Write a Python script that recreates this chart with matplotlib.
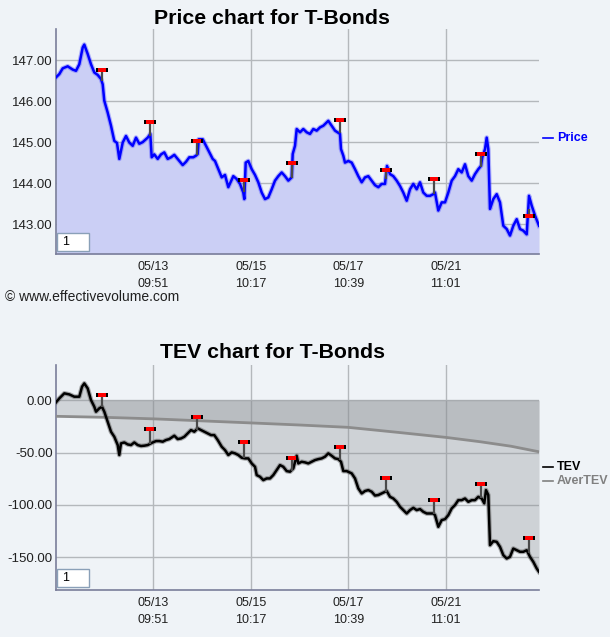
import matplotlib
matplotlib.use("Agg")
import matplotlib.pyplot as plt
from matplotlib.patches import Rectangle
import numpy as np

# ---------------- data ----------------
price_t = [0, 3.3, 6.7, 11.7, 16.7, 20, 23.3, 26.7, 28.3, 31.7,
           35, 38.3, 41.7, 45, 46.7, 48.3, 51.7, 55, 58.3, 61,
           63.3, 66.7, 70, 73.3, 76.7, 80, 83.3, 86.7, 91.7, 94.3,
           95.7, 98.3, 101.7, 105, 108.3, 111.7, 115, 118.3, 121.7, 126.7,
           130, 133.3, 137.3, 140, 141.7, 142.7, 146.7, 150, 153.3, 156.7,
           159, 162.3, 165.7, 169, 172.3, 177.3, 180.7, 184, 187.3, 188.3,
           189.7, 192.3, 195.7, 199, 202.3, 205.7, 209, 212.3, 215.7, 219,
           222.3, 225.7, 229, 232.3, 235.7, 236.7, 239, 240.7, 244, 247.3,
           250.7, 254, 257.3, 260.7, 264, 267.3, 272.3, 275.7, 279, 284,
           285, 287.3, 289, 292.3, 295.7, 299, 302.3, 305.7, 309, 312.3,
           315.7, 319, 322.3, 325.7, 329, 331, 334, 337.3, 340.7, 344,
           347.3, 350.7, 354, 357.3, 360.7, 364, 367.3, 370.7, 374, 377.3,
           379, 382.3, 385.7, 389, 392.3, 395.7, 399, 402.3, 405.7, 409,
           412.3, 415.7, 419, 422.3, 425, 426.3, 429, 430.7, 432.3, 434,
           437.3, 440.7, 444, 447.3, 450.7, 454, 457.3, 460.7, 464, 467.3,
           470.7, 473, 475.7, 479, 483]
price = [146.58, 146.66, 146.80, 146.85, 146.77, 146.74, 146.90, 147.31, 147.38, 147.15,
         146.90, 146.70, 146.64, 146.54, 146.41, 146.01, 145.72, 145.40, 145.03, 144.98,
         144.59, 144.99, 145.15, 144.99, 144.91, 145.11, 144.96, 145.00, 145.11, 145.20,
         144.63, 144.70, 144.59, 144.70, 144.75, 144.59, 144.63, 144.69, 144.59, 144.44,
         144.52, 144.63, 144.63, 144.67, 144.71, 145.07, 145.07, 144.91, 144.75, 144.59,
         144.54, 144.34, 144.14, 144.20, 143.90, 144.17, 144.10, 143.98, 143.77, 143.61,
         144.50, 144.54, 144.34, 144.20, 144.02, 143.77, 143.61, 143.65, 143.85, 144.06,
         144.17, 144.26, 144.17, 144.06, 144.14, 144.71, 144.91, 145.32, 145.24, 145.32,
         145.24, 145.20, 145.32, 145.28, 145.36, 145.40, 145.52, 145.40, 145.28, 145.20,
         144.83, 144.67, 144.50, 144.54, 144.50, 144.34, 144.17, 144.02, 144.14, 144.17,
         144.06, 143.95, 143.90, 143.98, 143.98, 144.42, 144.22, 144.17, 144.06, 143.93,
         143.77, 143.57, 143.85, 143.98, 143.85, 144.02, 143.77, 143.69, 143.69, 143.73,
         143.77, 143.33, 143.53, 143.53, 143.77, 144.06, 144.17, 144.34, 144.26, 144.46,
         144.17, 144.06, 144.22, 144.34, 144.42, 144.63, 144.83, 145.11, 144.83, 143.37,
         143.61, 143.73, 143.53, 142.96, 142.88, 142.72, 142.96, 143.12, 142.88, 142.84,
         142.75, 143.69, 143.45, 143.21, 142.96]

tev_t = [0, 3.3, 8.3, 13.3, 18.3, 23.3, 26, 28.3, 31.7, 35,
         38.3, 40, 43.3, 46, 48.3, 51.7, 55, 58.3, 61.7, 63.3,
         65, 68.3, 71.7, 75, 78.3, 81.7, 85, 88.3, 91.7, 95,
         96.7, 100, 103.3, 106.7, 110, 113.3, 118.3, 121.7, 125, 128.3,
         131.7, 135, 138.3, 141.7, 145, 148.3, 151.7, 155, 158.3, 161.7,
         165.7, 169, 172.3, 175.7, 179, 182.3, 185.7, 189, 192.3, 195.7,
         199, 200.7, 204, 207.3, 210.7, 214, 217.3, 220.7, 224, 227.3,
         230.7, 234, 237.3, 240.7, 242.3, 245.7, 249, 252.3, 255.7, 259,
         262.3, 265.7, 269, 272.3, 275.7, 279, 282.3, 285, 287.3, 290.7,
         295.7, 299, 302.3, 305.7, 309, 312.3, 315.7, 319, 322.3, 325.7,
         330.7, 334, 337.3, 340.7, 344, 347.3, 350.7, 354, 357.3, 360.7,
         364, 367.3, 370.7, 374, 377.3, 379, 382.3, 385.7, 389, 392.3,
         395.7, 399, 402.3, 405.7, 409, 412.3, 415.7, 419, 422.3, 425.7,
         428.3, 430, 432.3, 434, 437.3, 440.7, 444, 447.3, 450.7, 454,
         457.3, 460.7, 464, 467.3, 470.7, 474, 477.3, 480.7, 483]
tev = [-2.2, 1.6, 6.4, 5.4, 3.2, 3.2, 12.7, 15.9, 11.1, 0.0,
       -6.4, -11.1, -7.9, -6.4, -11.1, -20.7, -30.2, -35.0, -42.9, -52.4,
       -41.3, -40.4, -42.3, -42.9, -40.4, -42.9, -43.8, -43.5, -42.9, -41.3,
       -40.4, -39.1, -39.1, -39.7, -38.1, -37.2, -34.0, -37.2, -36.6, -35.0,
       -31.8, -28.6, -30.2, -27.0, -28.6, -30.2, -31.8, -33.4, -33.4, -38.1,
       -44.5, -47.7, -52.4, -49.9, -50.8, -52.4, -55.0, -55.6, -55.6, -60.4,
       -63.6, -71.5, -73.1, -76.3, -74.7, -74.7, -71.5, -66.7, -62.0, -63.6,
       -67.7, -68.3, -65.2, -53.1, -60.4, -58.8, -59.4, -60.4, -58.8, -57.2,
       -56.3, -55.6, -54.0, -50.8, -53.1, -55.6, -56.3, -58.8, -67.7, -67.7,
       -69.9, -74.7, -84.2, -89.0, -86.7, -85.8, -87.4, -91.0, -90.5, -89.0,
       -86.7, -92.2, -93.8, -97.0, -101.7, -104.9, -108.1, -104.9, -102.7, -104.9,
       -103.9, -106.5, -108.1, -108.1, -108.1, -109.7, -120.8, -114.4, -113.5, -109.7,
       -103.3, -100.1, -95.4, -95.4, -93.8, -97.0, -95.4, -95.4, -92.2, -93.8,
       -98.5, -85.8, -90.5, -138.3, -134.5, -135.1, -139.9, -147.8, -151.0, -149.4,
       -141.5, -143.1, -144.6, -144.6, -143.1, -149.4, -154.2, -160.5, -163.7]

aver_t = [0, 50, 100, 150, 200, 244, 292, 344, 390, 424, 455, 483]
aver_tev = [-15.5, -16.5, -18.0, -20.0, -22.0, -23.8, -26.0, -31.0, -35.6, -39.7, -44.0, -49.3]

signal_t = [46.3, 93.8, 141.3, 188.0, 235.8, 284.0, 330.3, 378.3, 425.0, 473.0]
signal_price = [146.75, 145.50, 145.02, 144.07, 144.50, 145.53, 144.31, 144.09, 144.72, 143.19]
signal_tev = [4.8, -28.0, -16.0, -39.5, -55.0, -45.0, -74.0, -95.0, -80.0, -131.0]

tick_pos = [97.3, 194.7, 292.3, 389.7]
tick_labels = ["05/13\n09:51", "05/15\n10:17", "05/17\n10:39", "05/21\n11:01"]
price_ticks = [143.0, 144.0, 145.0, 146.0, 147.0]
tev_ticks = [-150.0, -100.0, -50.0, 0.0]

# ---------------- style ----------------
BG = "#eff3f7"
FONT = ["Liberation Sans", "DejaVu Sans"]
plt.rcParams["font.family"] = FONT

fig = plt.figure(figsize=(6.10, 6.37), dpi=100, facecolor=BG)

def style_axes(ax, yticks, ylim):
    ax.set_facecolor(BG)
    ax.set_xlim(0, 483)
    ax.set_ylim(*ylim)
    ax.set_xticks(tick_pos)
    ax.set_xticklabels(tick_labels, fontsize=9, color="#202020", linespacing=1.6)
    ax.set_yticks(yticks)
    ax.set_yticklabels([f"{v:.2f}" for v in yticks], fontsize=9.5, color="#202020")
    ax.tick_params(axis="y", length=0, pad=2.5)
    ax.tick_params(axis="x", length=0, pad=5)
    ax.grid(True, color="#b4b8bc", lw=1.0)
    ax.set_axisbelow(True)
    for s in ("top", "right"):
        ax.spines[s].set_visible(False)
    ax.spines["left"].set_color("#7a7e9a")
    ax.spines["bottom"].set_color("#7a7e9a")
    ax.spines["left"].set_linewidth(1.2)
    ax.spines["bottom"].set_linewidth(1.2)
    # input box
    ax.add_patch(Rectangle((0.003, 0.015), 0.066, 0.078, transform=ax.transAxes,
                           facecolor="white", edgecolor="#8aa0b8", lw=1.0, zorder=6))
    ax.text(0.012, 0.054, "1", transform=ax.transAxes, fontsize=9, va="center",
            ha="left", color="black", zorder=7)

def draw_signals(ax, sig_t, sig_v, curve_t, curve_v):
    base = np.interp(np.array(sig_t) - 0.8, curve_t, curve_v)
    for t, v, b in zip(sig_t, sig_v, base):
        ax.plot([t, t], [b, v], color="#4a4a4a", lw=1.6, zorder=5, solid_capstyle="butt")
    rect = [(-1, -0.42), (1, -0.42), (1, 0.42), (-1, 0.42), (-1, -0.42)]
    ax.plot(sig_t, sig_v, ls="none", marker=rect, ms=8.0, mfc="black", mec="black",
            mew=0, zorder=6)
    ax.plot(sig_t, sig_v, ls="none", marker=rect, ms=5.6, mfc="#ff0000", mec="#ff0000",
            mew=0, zorder=7)
    ax.plot(sig_t, sig_v, ls="none", marker=[(-1, -0.3), (1, -0.3), (1, 0.3), (-1, 0.3)],
            ms=2.2, mfc="white", mec="white", mew=0, zorder=8)

def legend_entry(x_px, y_px, label, color):
    y = 1 - y_px / 637
    fig.add_artist(plt.Line2D([x_px / 610, (x_px + 10) / 610], [y, y], color=color,
                              lw=1.2, transform=fig.transFigure))
    fig.text((x_px + 14) / 610, y, label, ha="left", va="center", fontsize=9,
             fontweight="bold", color=color)

# ---------------- price chart ----------------
ax1 = fig.add_axes([56 / 610, 1 - 254 / 637, 483 / 610, 225 / 637])
style_axes(ax1, price_ticks, (142.27, 147.76))
ax1.fill_between(price_t, price, 142.27, color="#cbcff5", lw=0, zorder=2)
ax1.plot(price_t, price, color="#6060ff", lw=3.4, alpha=0.45, zorder=3)
ax1.plot(price_t, price, color="#0000ff", lw=1.8, zorder=4)
draw_signals(ax1, signal_t, signal_price, price_t, price)

fig.text(272 / 610, 1 - 18 / 637, "Price chart for T-Bonds", ha="center", va="center",
         fontsize=15.3, fontweight="bold", color="black")
legend_entry(543, 138, "Price", "#0000ff")
fig.text(5 / 610, 1 - 297 / 637, "\u00a9 www.effectivevolume.com", ha="left", va="center",
         fontsize=10, color="#202020")

# ---------------- TEV chart ----------------
ax2 = fig.add_axes([56 / 610, 1 - 590 / 637, 483 / 610, 225 / 637])
style_axes(ax2, tev_ticks, (-181.0, 33.4))
ax2.fill_between(tev_t, tev, 0, color="#8a8d92", alpha=0.32, lw=0, zorder=2)
ax2.fill_between(aver_t, aver_tev, 0, color="#8a8d92", alpha=0.30, lw=0, zorder=2)
ax2.plot(aver_t, aver_tev, color="#8c8c8c", lw=2.0, zorder=3)
ax2.plot(tev_t, tev, color="#606060", lw=3.4, alpha=0.5, zorder=3)
ax2.plot(tev_t, tev, color="black", lw=1.8, zorder=4)
draw_signals(ax2, signal_t, signal_tev, tev_t, tev)

fig.text(272 / 610, 1 - 353 / 637, "TEV chart for T-Bonds", ha="center", va="center",
         fontsize=15.3, fontweight="bold", color="black")
legend_entry(543, 467, "TEV", "black")
legend_entry(543, 481, "AverTEV", "#808080")

fig.savefig("out.png", dpi=100, facecolor=BG)
